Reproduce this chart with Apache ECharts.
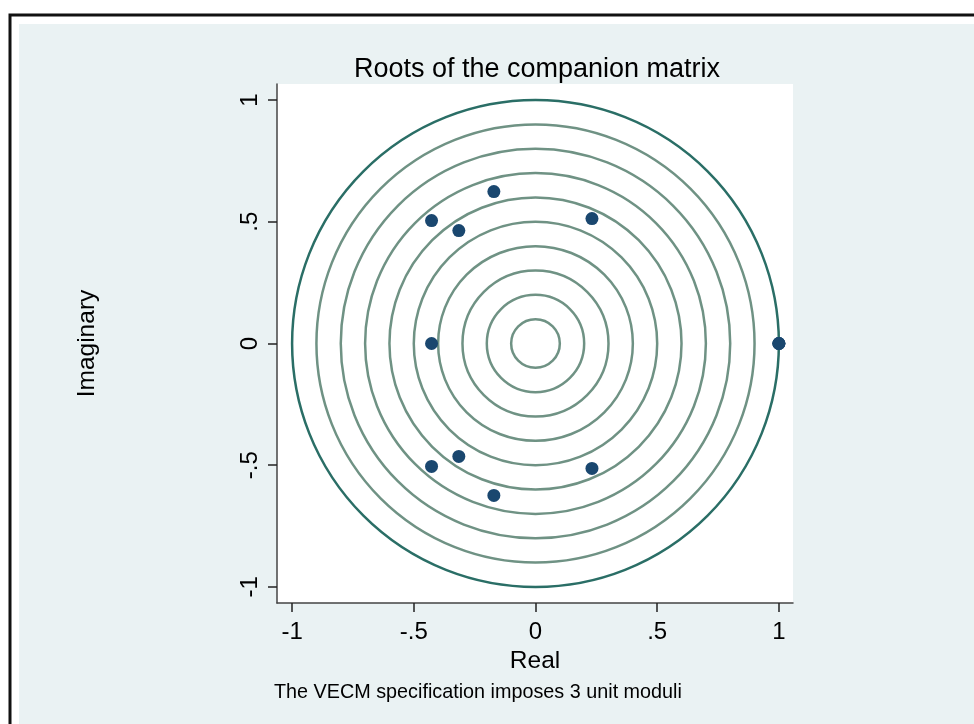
<!DOCTYPE html>
<html>
<head>
<meta charset="utf-8">
<script src="https://cdn.jsdelivr.net/npm/echarts@6/dist/echarts.min.js"></script>
<style>html,body{margin:0;padding:0;background:#fff}#c{width:974px;height:724px}</style>
</head>
<body>
<div id="c"></div>
<script>
// ---- data ----
const realParts = [1.0, 1.0, 1.0, -0.427, -0.427, -0.315, -0.315, -0.171, -0.171, 0.232, 0.232, -0.427];
const imagParts = [0.0, 0.0, 0.0, 0.505, -0.505, 0.464, -0.464, 0.624, -0.624, 0.513, -0.513, 0.0];
const circleRadii = [0.1, 0.2, 0.3, 0.4, 0.5, 0.6, 0.7, 0.8, 0.9];
const unitRadius = [1.0];
const tickValues = [-1, -0.5, 0, 0.5, 1];
const tickLabels = ['-1', '-.5', '0', '.5', '1'];
const titleText = 'Roots of the companion matrix';
const noteText = 'The VECM specification imposes 3 unit moduli';

const FONT = "'Liberation Sans', Arial, sans-serif";
const labelOf = v => { const i = tickValues.findIndex(t => Math.abs(t - v) < 1e-9); return i >= 0 ? tickLabels[i] : ''; };

function circleSeries(radii, color, z) {
  return {
    type: 'custom',
    coordinateSystem: 'cartesian2d',
    z: z,
    silent: true,
    clip: true,
    data: radii.map(r => [0, 0, r]),
    encode: { x: 0, y: 1 },
    renderItem: function (params, api) {
      const c = api.coord([api.value(0), api.value(1)]);
      const s = api.size([api.value(2), api.value(2)]);
      return {
        type: 'circle',
        shape: { cx: c[0], cy: c[1], r: s[0] },
        style: { fill: 'none', stroke: color, lineWidth: 2.5 }
      };
    }
  };
}

const chart = echarts.init(document.getElementById('c'), null, { renderer: 'canvas' });
chart.setOption({
  animation: false,
  backgroundColor: '#ffffff',
  textStyle: { fontFamily: FONT },
  graphic: [
    { type: 'rect', z: -20, silent: true, shape: { x: 10, y: 15, width: 990, height: 730 }, style: { fill: '#ffffff', stroke: '#111111', lineWidth: 3 } },
    { type: 'rect', z: -19, silent: true, shape: { x: 19, y: 24, width: 960, height: 710 }, style: { fill: '#EAF2F3' } }
  ],
  title: [
    { text: titleText, left: 532, top: 51, textAlign: 'center',
      textStyle: { fontFamily: FONT, fontSize: 27, fontWeight: 'normal', color: '#000' } },
    { text: noteText, left: 269, top: 678,
      textStyle: { fontFamily: FONT, fontSize: 19.8, fontWeight: 'normal', color: '#000' } }
  ],
  grid: { left: 277, top: 84, width: 516, height: 519, show: true, backgroundColor: '#ffffff', borderWidth: 0, containLabel: false },
  xAxis: {
    type: 'value', min: -1.062, max: 1.058,
    name: 'Real', nameLocation: 'middle', nameGap: 37,
    nameTextStyle: { fontFamily: FONT, fontSize: 24.5, color: '#000' },
    axisLine: { show: true, onZero: false, lineStyle: { color: '#444', width: 1.5 } },
    axisTick: { show: true, length: 9, customValues: tickValues, lineStyle: { color: '#222', width: 1.5 } },
    axisLabel: { customValues: tickValues, formatter: labelOf, margin: 17, fontFamily: FONT, fontSize: 24, color: '#000' },
    splitLine: { show: false }
  },
  yAxis: {
    type: 'value', min: -1.066, max: 1.066,
    name: 'Imaginary', nameLocation: 'middle', nameGap: 177, nameRotate: 90,
    nameTextStyle: { fontFamily: FONT, fontSize: 24.5, color: '#000' },
    axisLine: { show: true, onZero: false, lineStyle: { color: '#444', width: 1.5 } },
    axisTick: { show: true, length: 9, customValues: tickValues, lineStyle: { color: '#222', width: 1.5 } },
    axisLabel: { customValues: tickValues, formatter: labelOf, rotate: 90, margin: 15, fontFamily: FONT, fontSize: 24, color: '#000' },
    splitLine: { show: false }
  },
  series: [
    circleSeries(circleRadii, '#6F9284', 2),
    circleSeries(unitRadius, '#2A6E66', 3),
    {
      type: 'scatter', z: 5,
      data: realParts.map((x, i) => [x, imagParts[i]]),
      symbol: 'circle', symbolSize: 13,
      itemStyle: { color: '#1A476F', opacity: 1 },
      emphasis: { disabled: true }
    }
  ]
});
</script>
</body>
</html>
